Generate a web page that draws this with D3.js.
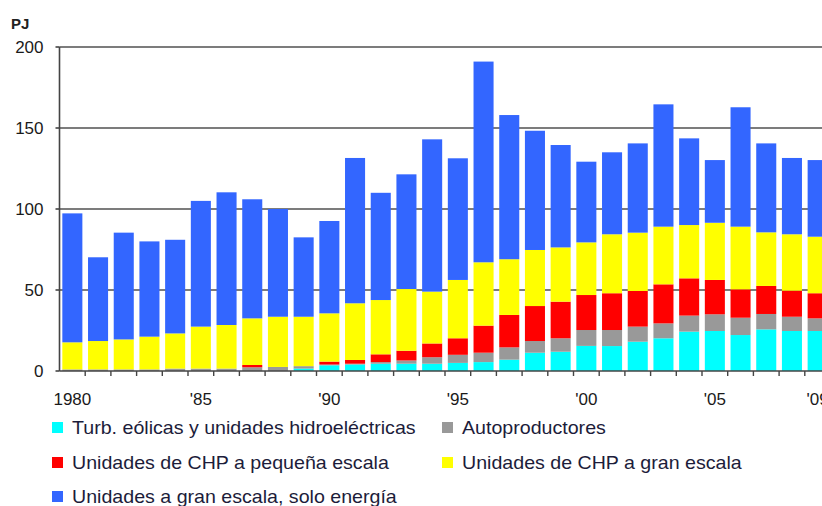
<!DOCTYPE html>
<html>
<head>
<meta charset="utf-8">
<script src="https://cdn.jsdelivr.net/npm/d3@7"></script>
<style>
  body { margin: 0; background: #fff; }
  svg { display: block; font-family: Arial, "Liberation Sans", sans-serif; }
</style>
</head>
<body>
<svg id="chart" width="822" height="506"></svg>
<script>
const years = d3.range(1980, 2010);

const eolicas = [0, 0, 0, 0, 0, 0, 0, 0, 0, 1.5, 3.5, 4, 4.5, 4.5, 4.5, 5, 5.5, 7, 11.3, 11.9, 15.5, 15.4, 18.1, 20.2, 24.3, 24.7, 22.2, 25.7, 24.7, 24.7];
const autoprod = [1, 1, 1, 1, 1.5, 1.5, 1.5, 2.3, 2.5, 1.5, 0.5, 0.5, 1, 2, 4, 5, 5.8, 7.6, 7.2, 8.3, 9.8, 9.9, 9.3, 9.2, 9.9, 10.3, 10.7, 9.5, 8.8, 7.8];
const chpPequena = [0, 0, 0, 0, 0, 0, 0, 1.4, 0, 0, 1.8, 2.3, 4.8, 6, 8.5, 10.2, 16.7, 20, 21.6, 22.6, 21.6, 22.7, 22, 24.1, 23, 21.2, 17.5, 17.3, 16.1, 15.5];
const chpGran = [16.7, 17.5, 18.5, 20.2, 21.7, 25.9, 26.9, 28.8, 31, 30.5, 29.8, 35, 33.5, 38.1, 32, 36, 39.1, 34.4, 34.6, 33.5, 32.5, 36.4, 36, 35.6, 32.9, 35.3, 38.7, 33.1, 34.8, 34.9];
const soloEnergia = [79.6, 51.7, 65.9, 58.8, 57.8, 77.6, 81.9, 73.5, 66.5, 49, 57, 89.7, 66.2, 70.8, 94, 75.1, 123.9, 89, 73.6, 63.2, 49.8, 50.6, 55.1, 75.5, 53.5, 38.7, 73.7, 54.9, 47.1, 47.3];

const yTicks = [0, 50, 100, 150, 200];
const xLabels = { 1980: '1980', 1985: "'85", 1990: "'90", 1995: "'95", 2000: "'00", 2005: "'05", 2009: "'09" };

const series = [
  { key: 'eolicas', name: 'Turb. eólicas y unidades hidroeléctricas', color: '#00ffff', values: eolicas },
  { key: 'autoprod', name: 'Autoproductores', color: '#999999', values: autoprod },
  { key: 'chpPequena', name: 'Unidades de CHP a pequeña escala', color: '#ff0000', values: chpPequena },
  { key: 'chpGran', name: 'Unidades de CHP a gran escala', color: '#ffff00', values: chpGran },
  { key: 'soloEnergia', name: 'Unidades a gran escala, solo energía', color: '#3366ff', values: soloEnergia },
];

const table = years.map((year, i) => {
  const row = { year };
  series.forEach(s => { row[s.key] = s.values[i]; });
  return row;
});

const svg = d3.select('#chart');
const plot = { left: 59.5, bottom: 371, top: 47 };

const x = d3.scaleBand()
  .domain(years)
  .range([plot.left, plot.left + years.length * 25.7])
  .paddingInner(0.22)
  .paddingOuter(0.11);

const y = d3.scaleLinear().domain([0, 200]).range([plot.bottom, plot.top]);

const layers = d3.stack().keys(series.map(s => s.key))(table);

// grid lines
svg.append('g')
  .selectAll('line')
  .data(yTicks.filter(d => d > 0))
  .join('line')
  .attr('x1', plot.left)
  .attr('x2', 822)
  .attr('y1', d => y(d))
  .attr('y2', d => y(d))
  .attr('stroke', '#505050')
  .attr('stroke-width', 1.7);

// bars
svg.append('g')
  .selectAll('g')
  .data(layers)
  .join('g')
  .attr('fill', (d, i) => series[i].color)
  .selectAll('rect')
  .data(d => d)
  .join('rect')
  .attr('x', d => x(d.data.year))
  .attr('width', x.bandwidth())
  .attr('y', d => y(d[1]))
  .attr('height', d => y(d[0]) - y(d[1]));

// y axis
const yAxis = svg.append('g').attr('transform', `translate(${plot.left},0)`);
yAxis.append('line')
  .attr('y1', plot.top).attr('y2', plot.bottom)
  .attr('stroke', '#444').attr('stroke-width', 1.6);
yAxis.selectAll('line.tick')
  .data(yTicks)
  .join('line')
  .attr('class', 'tick')
  .attr('x1', -4).attr('x2', 0)
  .attr('y1', d => y(d)).attr('y2', d => y(d))
  .attr('stroke', '#444').attr('stroke-width', 1.6);
yAxis.selectAll('text')
  .data(yTicks)
  .join('text')
  .attr('x', -16)
  .attr('y', d => y(d))
  .attr('dy', '0.36em')
  .attr('text-anchor', 'end')
  .attr('font-size', 17)
  .attr('fill', '#1a1a1a')
  .text(d => d);

svg.append('text')
  .attr('x', 11).attr('y', 29)
  .attr('font-size', 15)
  .attr('font-weight', 'bold')
  .attr('fill', '#222')
  .text('PJ');

// x axis
const xAxis = svg.append('g');
xAxis.append('line')
  .attr('x1', plot.left).attr('x2', 822)
  .attr('y1', plot.bottom).attr('y2', plot.bottom)
  .attr('stroke', '#444').attr('stroke-width', 1.6);
xAxis.selectAll('line.tick')
  .data(years.slice(1))
  .join('line')
  .attr('class', 'tick')
  .attr('x1', d => x(d) - x.step() * x.paddingInner() / 2)
  .attr('x2', d => x(d) - x.step() * x.paddingInner() / 2)
  .attr('y1', plot.bottom).attr('y2', plot.bottom + 5)
  .attr('stroke', '#444').attr('stroke-width', 1.4);
xAxis.selectAll('text')
  .data(years.filter(d => xLabels[d]))
  .join('text')
  .attr('x', d => x(d) + x.bandwidth() / 2)
  .attr('y', 405)
  .attr('text-anchor', 'middle')
  .attr('font-size', 17)
  .attr('fill', '#1a1a1a')
  .text(d => xLabels[d]);

// legend
const legendPos = [
  { key: 'eolicas', x: 52, y: 428 },
  { key: 'autoprod', x: 442, y: 428 },
  { key: 'chpPequena', x: 52, y: 463 },
  { key: 'chpGran', x: 442, y: 463 },
  { key: 'soloEnergia', x: 52, y: 497 },
];

const legend = svg.append('g')
  .selectAll('g')
  .data(legendPos)
  .join('g')
  .attr('transform', d => `translate(${d.x},${d.y})`);

legend.append('rect')
  .attr('x', 0).attr('y', -6)
  .attr('width', 11).attr('height', 11)
  .attr('fill', d => series.find(s => s.key === d.key).color);

legend.append('text')
  .attr('transform', 'translate(20,0) scale(1.09,1)')
  .attr('dy', '0.34em')
  .attr('font-size', 18)
  .attr('fill', '#1c1c3a')
  .text(d => series.find(s => s.key === d.key).name);
</script>
</body>
</html>
